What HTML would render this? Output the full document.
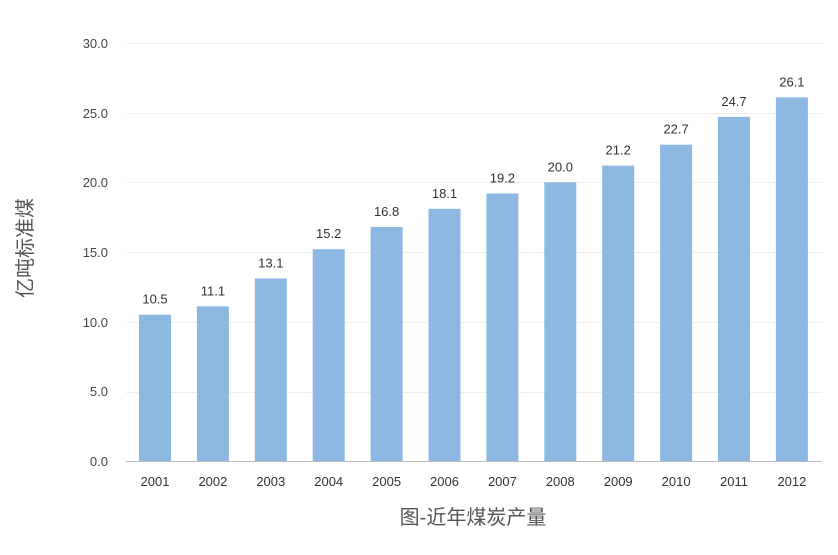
<!DOCTYPE html>
<html><head><meta charset="utf-8"><style>
body{margin:0;background:#fff;}
svg text{font-family:"Liberation Sans","Noto Sans CJK SC",sans-serif;}
</style></head><body>
<svg width="838" height="550" xmlns="http://www.w3.org/2000/svg">
<g stroke="#eeeeee" stroke-width="1">
<line x1="126" y1="43.5" x2="822" y2="43.5"/>
<line x1="126" y1="113.5" x2="822" y2="113.5"/>
<line x1="126" y1="182.5" x2="822" y2="182.5"/>
<line x1="126" y1="252.5" x2="822" y2="252.5"/>
<line x1="126" y1="322.5" x2="822" y2="322.5"/>
<line x1="126" y1="392.5" x2="822" y2="392.5"/>
</g>
<g font-size="13" fill="#444" text-anchor="end">
<text x="108" y="466">0.0</text>
<text x="108" y="396">5.0</text>
<text x="108" y="327">10.0</text>
<text x="108" y="257">15.0</text>
<text x="108" y="187">20.0</text>
<text x="108" y="118">25.0</text>
<text x="108" y="48">30.0</text>
</g>
<g id="bars" fill="#8db8e2"></g>
<g id="lbl" font-size="13" fill="#333" text-anchor="middle"></g>
<line x1="126" y1="461.5" x2="822" y2="461.5" stroke="#bbb" stroke-width="1"/>
<text x="32" y="248" font-size="20" fill="#555" text-anchor="middle" transform="rotate(-90 32 248)">亿吨标准煤</text>
<text x="473" y="524" font-size="20" fill="#555" text-anchor="middle">图-近年煤炭产量</text>
<script>
var d=[10.5,11.1,13.1,15.2,16.8,18.1,19.2,20.0,21.2,22.7,24.7,26.1];
var b=document.getElementById('bars'),l=document.getElementById('lbl'),ns='http://www.w3.org/2000/svg';
d.forEach(function(v,i){
var cx=155+i*57.9,h=v*418/30,y=461-h;
var r=document.createElementNS(ns,'rect');
r.setAttribute('x',cx-16);r.setAttribute('y',y);r.setAttribute('width',32);r.setAttribute('height',h);b.appendChild(r);
var t=document.createElementNS(ns,'text');t.setAttribute('x',cx);t.setAttribute('y',y-11);t.textContent=v.toFixed(1);l.appendChild(t);
var t2=document.createElementNS(ns,'text');t2.setAttribute('x',cx);t2.setAttribute('y',486);t2.textContent=2001+i;l.appendChild(t2);
});
</script>
</svg>
</body></html>
